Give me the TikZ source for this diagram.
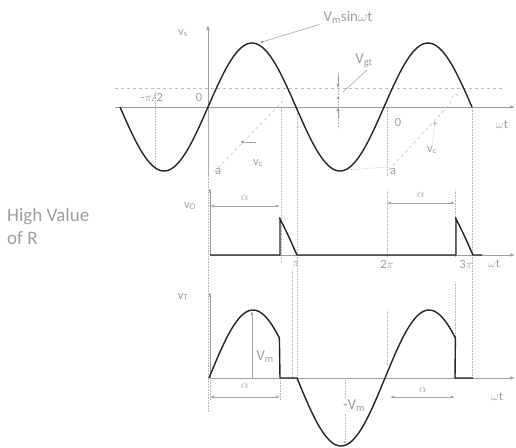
\documentclass[tikz,border=0pt]{standalone}
\usepackage{fontspec}
\setmainfont{Carlito}
\usetikzlibrary{arrows.meta}
\begin{document}
\begin{tikzpicture}[x=1pt,y=-1pt,
  wave/.style={black!85,line width=1.4pt,line join=round},
  axis/.style={gray!75,line width=0.7pt,-{Latex[length=5pt,width=3.5pt]}},
  guide/.style={gray!55,line width=0.6pt,densely dotted},
  ramp/.style={gray!50,line width=0.6pt,dashed},
  dim/.style={gray!70,line width=0.6pt,{Latex[length=4pt,width=3pt]}-{Latex[length=4pt,width=3pt]}},
  ptr/.style={gray!70,line width=0.6pt},
  lbl/.style={text=gray!75,inner sep=0pt,font=\fontsize{12.5}{13}\selectfont},
  big/.style={text=gray!75,inner sep=0pt,font=\fontsize{15}{15}\selectfont}]
\useasboundingbox (0,0) rectangle (516,447);
% ---------- top plot v_s ----------
\coordinate (o1) at (208,107);
\coordinate (ytop1) at (208,25);
\coordinate (xl1) at (115,107);
\coordinate (xr1) at (515,107);
\draw[gray!50,line width=0.6pt,dashed] (115,88) -- (505,88);
\draw[axis] (o1) -- (ytop1);
\draw[axis] (xl1) -- (xr1);
\draw[gray!65,line width=0.6pt] (o1) -- (208,176);
% guides top
\draw[guide] (155,95) -- (155,170);
\draw[guide] (208,176) -- (208,412);
\draw[guide] (281,108) -- (281,262);
\draw[guide] (297,108) -- (297,380);
\draw[guide] (387,108) -- (387,176);
\draw[guide] (472,108) -- (472,380);
\draw[guide] (345,170) -- (388,167);
% ramps v_c
\draw[ramp] (214,172) -- (284,100);
\draw[ramp] (389,170) -- (450,104) .. controls (452,94) and (456,92) .. (458,96);
% sine v_s
\draw[wave] plot[domain=-180:540,samples=150,smooth] ({208+\x/180*88},{107-64*sin(\x)});
% V_gt marks
\draw[guide] (338,72) -- (338,128);
\draw[gray!80,-{Latex[length=4pt,width=3pt]}] (338,76) -- (338,88);
\draw[gray!80,-{Latex[length=4pt,width=3pt]}] (338,118) -- (338,107);
\fill[gray!80] (338,98) circle (1.3pt);
% labels top
\node[lbl] (vs) at (183,33) {v$_\mathrm{s}$};
\node[big] (vm) at (348,17) {V$_\mathrm{m}$sin$\omega$t};
\coordinate (vmpt) at (262,42);
\draw[ptr] (vm.south west) ++(-4,1) coordinate (vmstart) -- (vmpt);
\fill[gray!80] (vmpt) circle (1.5pt);
\node[big] (vgt) at (364,61) {V$_\mathrm{gt}$};
\draw[ptr] (367,70) -- (343,92);
\node[lbl] (mpi2) at (152,97) {-$\pi$/2};
\node[lbl] (z1) at (199,97) {0};
\node[lbl] (z2) at (398,122) {0};
\node[lbl] (vc1) at (258,163) {v$_\mathrm{c}$};
\coordinate (vc1t) at (241,142);
\draw[ptr,-{Circle[length=3pt]}] (256,142) -- (vc1t);
\node[lbl] (a1) at (218,172) {a};
\node[lbl] (a2) at (393,172) {a};
\node[lbl] (vc2) at (432,150) {v$_\mathrm{c}$};
\coordinate (vc2t) at (435,122);
\draw[guide,-{Circle[length=3pt]}] (vc2.north) -- (vc2t);
\node[lbl] (wt1) at (502,125) {$\omega$t};
% ---------- middle plot v_o ----------
\node[big,align=left,anchor=west,font=\fontsize{19}{23}\selectfont] (hv) at (7,226) {High Value\\of R};
\coordinate (o2) at (210,255);
\draw[axis] (o2) -- (210,188);
\draw[axis] (o2) -- (515,255);
\draw[guide] (387,190) -- (387,256);
\draw[guide] (455,190) -- (455,256);
\draw[wave] (210,255) -- (280,255) -- (280,218)
  -- plot[domain=144:180,samples=20,smooth] ({209+\x/180*88},{255-63*sin(\x)})
  -- (456,255) -- (456,218)
  -- plot[domain=504:540,samples=20,smooth] ({209+\x/180*88},{255-63*sin(\x)})
  -- (482,255);
\draw[dim] (210,206) -- (280,206);
\draw[dim] (387,203) -- (455,203);
\node[lbl] (vo) at (190,206) {v$_\mathrm{O}$};
\node[lbl] (al1) at (245,198) {$\alpha$};
\node[lbl] (al2) at (421,195) {$\alpha$};
\node[lbl] (pi) at (296,264) {$\pi$};
\node[lbl] (tpi) at (387,264) {2$\pi$};
\node[lbl] (thpi) at (466,264) {3$\pi$};
\node[lbl] (wt2) at (494,264) {$\omega$t};
% ---------- bottom plot v_T ----------
\coordinate (o3) at (210,378);
\draw[axis] (o3) -- (210,292);
\draw[axis] (o3) -- (515,378);
\draw[guide] (292,270) -- (292,378);
\draw[guide] (387,310) -- (387,365);
\draw[guide] (455,282) -- (455,378);
\draw[wave] plot[domain=0:144,samples=40,smooth] ({209+\x/180*88},{378-68*sin(\x)})
  -- (280,378) -- (297,378)
  -- plot[domain=180:504,samples=80,smooth] ({209+\x/180*88},{378-68*sin(\x)})
  -- (455,378) -- (473,378);
\draw[gray!70,line width=0.6pt,-{Latex[length=4pt,width=3pt]}] (252,378) -- (252,311);
\draw[guide,-{Latex[length=4pt,width=3pt]}] (345,380) -- (345,445);
\draw[gray!70,line width=0.6pt] (342,378) -- (348,378);
\draw[guide] (210,380) -- (210,400);
\draw[guide] (280,380) -- (280,400);
\draw[dim] (210,397) -- (280,397);
\draw[dim] (390,397) -- (455,397);
\node[lbl] (vt) at (183,297) {v$_\mathrm{T}$};
\node[big] (vmb) at (265,357) {V$_\mathrm{m}$};
\node[lbl] (al3) at (245,386) {$\alpha$};
\node[big,fill=white,inner sep=1pt] (mvm) at (354,406) {-V$_\mathrm{m}$};
\node[lbl] (al4) at (423,390) {$\alpha$};
\node[lbl] (wt3) at (497,397) {$\omega$t};
\end{tikzpicture}
\end{document}
